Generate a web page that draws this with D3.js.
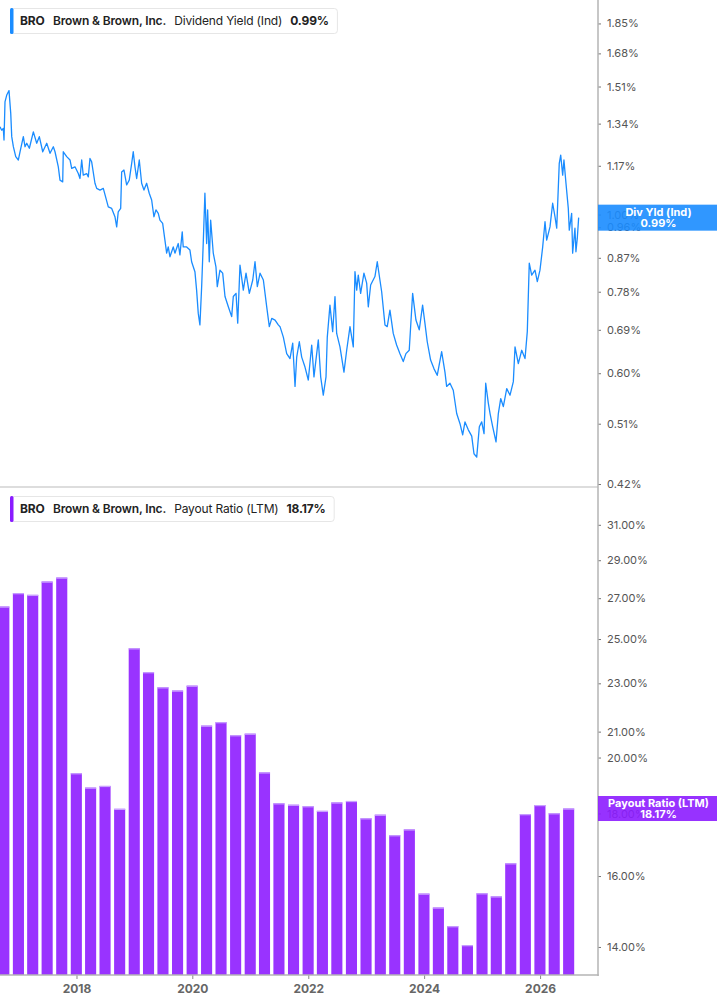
<!DOCTYPE html>
<html>
<head>
<meta charset="utf-8">
<script src="https://cdn.jsdelivr.net/npm/d3@7"></script>
<style>
  body { margin: 0; background: #fff; }
  svg { display: block; font-family: Inter, "Noto Sans", sans-serif; }
</style>
</head>
<body>
<div id="chart"></div>
<script>
// Dividend Yield (Ind), % -- dates as decimal years
var yieldDates = [
  2016.680,2016.709,2016.737,2016.749,2016.766,2016.796,2016.835,2016.865,2016.882,2016.910,
  2016.951,2016.996,2017.025,2017.082,2017.111,2017.141,2017.186,2017.255,2017.313,2017.358,
  2017.417,2017.486,2017.543,2017.600,2017.629,2017.686,2017.715,2017.762,2017.772,2017.831,
  2017.888,2017.917,2017.974,2018.031,2018.060,2018.090,2018.117,2018.176,2018.204,2018.233,
  2018.262,2018.319,2018.349,2018.406,2018.463,2018.549,2018.608,2018.664,2018.694,2018.721,
  2018.763,2018.780,2018.820,2018.866,2018.911,2018.953,2018.980,2019.010,2019.039,2019.084,
  2019.125,2019.165,2019.211,2019.256,2019.298,2019.337,2019.372,2019.412,2019.441,2019.488,
  2019.527,2019.557,2019.584,2019.614,2019.671,2019.700,2019.757,2019.786,2019.826,2019.843,
  2019.902,2019.959,2019.988,2020.045,2020.074,2020.102,2020.131,2020.161,2020.188,2020.217,
  2020.247,2020.264,2020.292,2020.316,2020.361,2020.407,2020.430,2020.476,2020.523,2020.563,
  2020.620,2020.678,2020.706,2020.753,2020.782,2020.821,2020.878,2020.925,2020.982,2021.041,
  2021.080,2021.120,2021.167,2021.224,2021.282,2021.327,2021.369,2021.426,2021.482,2021.512,
  2021.569,2021.627,2021.684,2021.731,2021.771,2021.800,2021.845,2021.886,2021.943,2022.000,
  2022.059,2022.098,2022.173,2022.214,2022.259,2022.306,2022.328,2022.374,2022.421,2022.461,
  2022.490,2022.547,2022.616,2022.663,2022.720,2022.777,2022.806,2022.836,2022.863,2022.904,
  2022.961,2023.008,2023.036,2023.077,2023.151,2023.191,2023.237,2023.267,2023.324,2023.363,
  2023.410,2023.467,2023.525,2023.583,2023.640,2023.686,2023.743,2023.802,2023.859,2023.916,
  2023.974,2024.014,2024.054,2024.112,2024.169,2024.226,2024.302,2024.359,2024.388,2024.445,
  2024.502,2024.561,2024.618,2024.664,2024.704,2024.761,2024.820,2024.859,2024.906,2024.951,
  2024.992,2025.032,2025.061,2025.106,2025.136,2025.182,2025.239,2025.279,2025.320,2025.365,
  2025.424,2025.481,2025.538,2025.567,2025.624,2025.683,2025.740,2025.779,2025.813,2025.855,
  2025.912,2025.952,2025.998,2026.045,2026.085,2026.114,2026.171,2026.217,2026.257,2026.287,
  2026.331,2026.356,2026.390,2026.412,2026.447,2026.487,2026.504,2026.545,2026.562,2026.602,
  2026.619,2026.642,2026.666
];
var yieldValues = [
  1.327,1.312,1.319,1.271,1.437,1.469,1.490,1.385,1.285,1.244,
  1.205,1.192,1.224,1.285,1.244,1.258,1.238,1.305,1.258,1.285,
  1.224,1.258,1.218,1.244,1.224,1.166,1.117,1.111,1.224,1.205,
  1.192,1.160,1.166,1.141,1.123,1.192,1.135,1.141,1.129,1.198,
  1.185,1.106,1.088,1.082,1.088,1.025,1.020,0.993,0.961,1.009,
  1.020,1.147,1.154,1.100,1.117,1.179,1.224,1.166,1.123,1.192,
  1.106,1.082,1.106,1.071,1.048,0.993,1.015,1.004,0.982,0.972,
  0.921,0.883,0.901,0.873,0.901,0.883,0.911,0.878,0.946,0.901,
  0.901,0.892,0.859,0.832,0.784,0.728,0.701,0.793,0.911,1.071,
  0.911,1.015,0.859,0.982,0.883,0.845,0.793,0.836,0.828,0.768,
  0.743,0.720,0.768,0.776,0.705,0.850,0.784,0.828,0.776,0.810,
  0.859,0.793,0.828,0.810,0.743,0.697,0.716,0.712,0.701,0.697,
  0.674,0.639,0.629,0.661,0.575,0.632,0.664,0.632,0.612,0.587,
  0.657,0.593,0.668,0.593,0.559,0.593,0.674,0.747,0.686,0.768,
  0.682,0.653,0.602,0.646,0.697,0.653,0.832,0.784,0.823,0.776,
  0.828,0.802,0.743,0.797,0.819,0.859,0.810,0.780,0.701,0.697,
  0.735,0.682,0.657,0.639,0.623,0.639,0.646,0.776,0.712,0.690,
  0.747,0.705,0.664,0.626,0.609,0.596,0.643,0.602,0.575,0.581,
  0.568,0.527,0.510,0.492,0.513,0.500,0.490,0.463,0.458,0.505,
  0.513,0.494,0.581,0.545,0.527,0.505,0.481,0.527,0.553,0.539,
  0.571,0.559,0.584,0.653,0.619,0.646,0.629,0.686,0.855,0.823,
  0.836,0.806,0.836,0.901,0.977,0.921,0.961,1.037,0.993,0.957,
  1.179,1.211,1.135,1.192,1.106,1.020,0.951,1.004,0.883,0.957,
  0.887,0.926,0.990
];

// Payout Ratio (LTM), % -- quarter ends
var payoutQuarters = [
  "2016-09-30","2016-12-31",
  "2017-03-31","2017-06-30","2017-09-30","2017-12-31",
  "2018-03-31","2018-06-30","2018-09-30","2018-12-31",
  "2019-03-31","2019-06-30","2019-09-30","2019-12-31",
  "2020-03-31","2020-06-30","2020-09-30","2020-12-31",
  "2021-03-31","2021-06-30","2021-09-30","2021-12-31",
  "2022-03-31","2022-06-30","2022-09-30","2022-12-31",
  "2023-03-31","2023-06-30","2023-09-30","2023-12-31",
  "2024-03-31","2024-06-30","2024-09-30","2024-12-31",
  "2025-03-31","2025-06-30","2025-09-30","2025-12-31",
  "2026-03-31","2026-06-30"
];
var payoutValues = [
  26.58,27.26,27.17,27.86,28.07,19.42,18.90,18.96,18.16,24.57,
  23.49,22.83,22.69,22.90,21.24,21.38,20.86,20.92,19.45,18.35,
  18.30,18.25,18.09,18.38,18.43,17.84,17.96,17.28,17.47,15.48,
  15.08,14.56,14.05,15.49,15.40,16.39,17.98,18.29,18.01,18.17
];

var yieldTicks = [0.42, 0.51, 0.60, 0.69, 0.78, 0.87, 0.96, 1.00, 1.17, 1.34, 1.51, 1.68, 1.85];
var payoutTicks = [14, 16, 18, 20, 21, 23, 25, 27, 29, 31];
var yearTicks = [2018, 2020, 2022, 2024, 2026];

var W = 717, H = 1005, plotR = 598;
var blue = "#1a8cff", purple = "#9933ff", purpleTag = "#8c1cff";

function decYear(t) {
  var y = Math.floor(t);
  var a = new Date(y, 0, 1), b = new Date(y + 1, 0, 1);
  return new Date(+a + (t - y) * (b - a));
}
var parseDay = d3.timeParse("%Y-%m-%d");

var svg = d3.select("#chart").append("svg")
  .attr("width", W).attr("height", H);

var x = d3.scaleTime()
  .domain([decYear(2016.68), decYear(2027.0)])
  .range([0, plotR]);

var yTop = d3.scaleLog().domain([0.416, 1.995]).range([487, 0]);
var yBot = d3.scaleLog().domain([13.28, 33.1]).range([975, 490]);

// ---- top panel: dividend yield line
var yieldData = yieldDates.map(function (d, i) { return { date: decYear(d), v: yieldValues[i] }; });

svg.append("path")
  .datum(yieldData)
  .attr("fill", "none")
  .attr("stroke", blue)
  .attr("stroke-width", 1.3)
  .attr("stroke-linejoin", "round")
  .attr("d", d3.line().x(function (d) { return x(d.date); }).y(function (d) { return yTop(d.v); }));

// separator under top panel
svg.append("line")
  .attr("x1", 0).attr("x2", plotR)
  .attr("y1", 487).attr("y2", 487)
  .attr("stroke", "#dddddd").attr("stroke-width", 2);

// ---- bottom panel: payout ratio bars
var payoutData = payoutQuarters.map(function (d, i) { return { date: parseDay(d), v: payoutValues[i] }; });
var step = x(payoutData[1].date) - x(payoutData[0].date);
var bw = step * 0.76;

var bars = svg.append("g");
bars.selectAll("rect.bar")
  .data(payoutData)
  .enter().append("rect")
  .attr("class", "bar")
  .attr("x", function (d) { return x(d.date) - bw / 2; })
  .attr("y", function (d) { return yBot(d.v); })
  .attr("width", bw)
  .attr("height", function (d) { return 975 - yBot(d.v); })
  .attr("fill", purple);
bars.selectAll("rect.cap")
  .data(payoutData)
  .enter().append("rect")
  .attr("class", "cap")
  .attr("x", function (d) { return x(d.date) - bw / 2; })
  .attr("y", function (d) { return yBot(d.v); })
  .attr("width", bw)
  .attr("height", 1.2)
  .attr("fill", "#c9a2ff");

// ---- axes
function rightAxis(scale, ticks, fmt) {
  var g = svg.append("g").attr("transform", "translate(" + plotR + ",0)");
  g.call(d3.axisRight(scale).tickValues(ticks).tickFormat(fmt).tickSize(3).tickPadding(6));
  g.select(".domain").remove();
  g.selectAll(".tick line").attr("stroke", "#777");
  g.selectAll(".tick text")
    .attr("fill", "#555")
    .style("font-size", "11px")
    .style("font-family", "Inter, 'Noto Sans', sans-serif");
  return g;
}
rightAxis(yTop, yieldTicks, function (d) { return d.toFixed(2) + "%"; });
rightAxis(yBot, payoutTicks, function (d) { return d.toFixed(2) + "%"; });

svg.append("line")
  .attr("x1", plotR).attr("x2", plotR).attr("y1", 0).attr("y2", 976)
  .attr("stroke", "#b4b4b4").attr("stroke-width", 1.5);

var gx = svg.append("g").attr("transform", "translate(0,975)");
gx.call(d3.axisBottom(x)
  .tickValues(yearTicks.map(function (y) { return new Date(y, 0, 1); }))
  .tickFormat(d3.timeFormat("%Y"))
  .tickSize(4).tickPadding(5));
gx.select(".domain").remove();
gx.selectAll(".tick line").attr("stroke", "#888");
gx.selectAll(".tick text")
  .attr("fill", "#666")
  .style("font-size", "12px")
  .style("font-weight", "700")
  .style("font-family", "Inter, 'Noto Sans', sans-serif");
svg.append("line")
  .attr("x1", 0).attr("x2", plotR + 0.75).attr("y1", 975).attr("y2", 975)
  .attr("stroke", "#b4b4b4").attr("stroke-width", 1.5);

// ---- last value tags on the axis (drawn over the tick labels, as in the source)
function tag(yc, h, color, label, value) {
  var g = svg.append("g");
  g.append("rect")
    .attr("x", plotR).attr("y", yc - h / 2)
    .attr("width", W - plotR).attr("height", h)
    .attr("fill", color).attr("fill-opacity", 0.9);
  g.append("text")
    .attr("x", (plotR + W) / 2 + 1).attr("y", yc - 2)
    .attr("text-anchor", "middle")
    .attr("fill", "#fff").style("font-size", "11px").style("font-weight", "700")
    .text(label);
  g.append("text")
    .attr("x", (plotR + W) / 2 + 1).attr("y", yc + 9)
    .attr("text-anchor", "middle")
    .attr("fill", "#fff").style("font-size", "11px").style("font-weight", "700")
    .text(value);
}
var lastY = yieldValues[yieldValues.length - 1];
var lastP = payoutValues[payoutValues.length - 1];
tag(yTop(lastY), 26, blue, "Div Yld (Ind)", lastY.toFixed(2) + "%");
tag(yBot(lastP), 25, purpleTag, "Payout Ratio (LTM)", lastP.toFixed(2) + "%");

// ---- legend boxes (box sized to its text)
function legend(y, color, metric, value) {
  var g = svg.append("g").attr("transform", "translate(10," + y + ")");
  var box = g.append("rect")
    .attr("x", 0.5).attr("y", 0.5).attr("height", 25)
    .attr("rx", 3).attr("fill", "#fff").attr("stroke", "#e6e6e6");
  g.append("rect")
    .attr("x", 0).attr("y", 0).attr("width", 3.5).attr("height", 26)
    .attr("rx", 1.5).attr("fill", color);
  var t = g.append("text").attr("y", 17).attr("fill", "#222")
    .style("font-size", "12px").style("letter-spacing", "-0.15px");
  t.append("tspan").attr("x", 10).style("font-weight", "700").text("BRO");
  t.append("tspan").attr("x", 43).style("font-weight", "600").text("Brown & Brown, Inc.");
  t.append("tspan").attr("dx", 8).style("font-weight", "400").text(metric);
  t.append("tspan").attr("dx", 8).style("font-weight", "700").text(value);
  var bb = t.node().getBBox();
  box.attr("width", bb.x + bb.width + 8);
}
legend(8, blue, "Dividend Yield (Ind)", lastY.toFixed(2) + "%");
legend(496, "#8a1cff", "Payout Ratio (LTM)", lastP.toFixed(2) + "%");
</script>
</body>
</html>
